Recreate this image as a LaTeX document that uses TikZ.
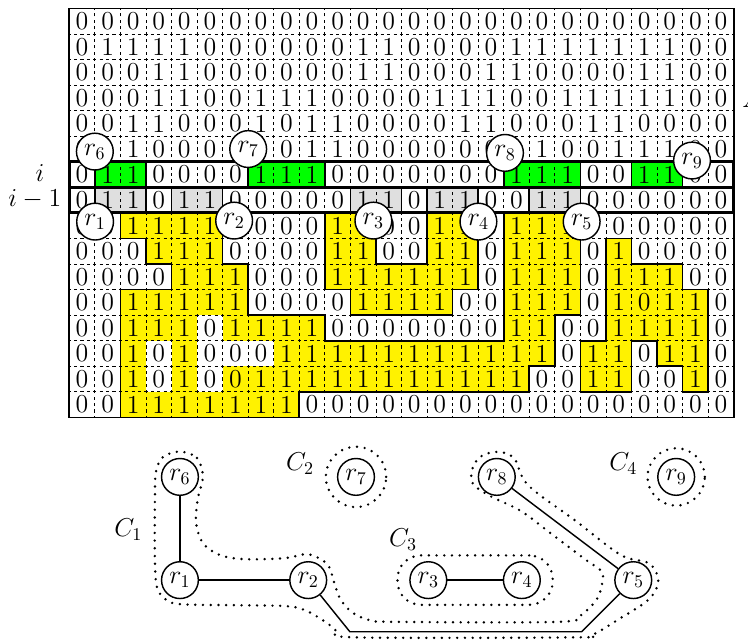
\documentclass[tikz,border=0pt]{standalone}
\usepackage{amsmath}
\usepackage{tikz}
\usetikzlibrary{fit}

\begin{document}
\begin{tikzpicture}[
  x=0.5cm, y=0.5cm,
  bit/.style={font=\Large, inner sep=0pt},
  lab/.style={circle, draw, fill=white, line width=0.8pt, minimum size=7.2mm,
              inner sep=0pt, font=\Large},
  cellline/.style={line width=0.4pt, dash pattern=on 1.7783pt off 1.7783pt,
                   dash phase=0.8892pt},
  run/.style={draw, line width=0.9pt},
  band/.style={line width=1.6pt},
  blob/.style={draw, fill=yellow, line width=0.9pt},
  hole/.style={fill=white},
  grp/.style={line width=1.5pt, dash pattern=on 0pt off 4.3pt, line cap=round},
  edge/.style={line width=0.8pt},
  tag/.style={font=\Large, inner sep=1pt},
]
\useasboundingbox (-2.712,0.333) rectangle (26.56,-24.68);

% runs of row i and row i-1
\foreach \a/\b in {1/3,7/10,17/20,22/24}
  \draw[run, fill=green] (\a,-6) rectangle (\b,-7);
\foreach \a/\b in {1/3,4/6,11/13,14/16,18/20}
  \draw[run, fill=gray!25] (\a,-7) rectangle (\b,-8);

% regions below
\draw[blob] (2,-8) -- (6,-8) -- (6,-10) -- (7,-10) -- (7,-12) -- (10,-12)
  -- (10,-13) -- (17,-13) -- (17,-8) -- (20,-8) -- (20,-12) -- (19,-12)
  -- (19,-14) -- (18,-14) -- (18,-15) -- (9,-15) -- (9,-16) -- (2,-16)
  -- (2,-11) -- (4,-11) -- (4,-10) -- (3,-10) -- (3,-9) -- (2,-9) -- cycle;
\draw[blob] (10,-8) -- (12,-8) -- (12,-10) -- (14,-10) -- (14,-8) -- (16,-8)
  -- (16,-11) -- (15,-11) -- (15,-12) -- (11,-12) -- (11,-11) -- (10,-11) -- cycle;
\draw[blob] (21,-9) -- (22,-9) -- (22,-10) -- (24,-10) -- (24,-11) -- (25,-11)
  -- (25,-15) -- (24,-15) -- (24,-14) -- (23,-14) -- (23,-13) -- (22,-13)
  -- (22,-15) -- (20,-15) -- (20,-13) -- (21,-13) -- cycle;
\fill[hole] (3,-13) rectangle (4,-15);
\fill[hole] (5,-12) rectangle (6,-15);
\fill[hole] (5,-13) rectangle (8,-14);

\foreach \k in {1,...,25} \draw[cellline] (\k,-16) -- (\k,0);
\foreach \k in {1,...,15} \draw[cellline] (0,-\k) -- (26,-\k);
\draw[line width=0.9pt] (0,0) rectangle (26,-16);
\draw[band] (0,-6) rectangle (26,-7);
\draw[band] (0,-7) rectangle (26,-8);

\foreach \bits [count=\r from 0] in {
 {0,0,0,0,0,0,0,0,0,0,0,0,0,0,0,0,0,0,0,0,0,0,0,0,0,0},
 {0,1,1,1,1,0,0,0,0,0,0,1,1,0,0,0,0,1,1,1,1,1,1,1,0,0},
 {0,0,0,1,1,0,0,0,0,0,0,1,1,0,0,0,1,1,0,0,0,0,1,1,0,0},
 {0,0,0,1,1,0,0,1,1,1,0,0,0,0,1,1,1,0,0,1,1,1,1,1,0,0},
 {0,0,1,1,0,0,0,1,0,1,1,0,0,0,0,1,1,0,0,0,1,1,0,0,0,0},
 {0,1,1,0,0,0,0,0,0,1,1,0,0,0,0,0,0,0,1,0,0,1,1,1,0,0},
 {0,1,1,0,0,0,0,1,1,1,0,0,0,0,0,0,0,1,1,1,0,0,1,1,0,0},
 {0,1,1,0,1,1,0,0,0,0,0,1,1,0,1,1,0,0,1,1,0,0,0,0,0,0},
 {0,0,1,1,1,1,0,0,0,0,1,1,0,0,1,1,0,1,1,1,0,0,0,0,0,0},
 {0,0,0,1,1,1,0,0,0,0,1,1,0,0,1,1,0,1,1,1,0,1,0,0,0,0},
 {0,0,0,0,1,1,1,0,0,0,1,1,1,1,1,1,0,1,1,1,0,1,1,1,0,0},
 {0,0,1,1,1,1,1,0,0,0,0,1,1,1,1,0,0,1,1,1,0,1,0,1,1,0},
 {0,0,1,1,1,0,1,1,1,1,0,0,0,0,0,0,0,1,1,0,0,1,1,1,1,0},
 {0,0,1,0,1,0,0,0,1,1,1,1,1,1,1,1,1,1,1,0,1,1,0,1,1,0},
 {0,0,1,0,1,0,0,1,1,1,1,1,1,1,1,1,1,1,0,0,1,1,0,0,1,0},
 {0,0,1,1,1,1,1,1,1,0,0,0,0,0,0,0,0,0,0,0,0,0,0,0,0,0}}
{
  \foreach \b [count=\c from 0] in \bits
    \node[bit] (b\r-\c) at (\c+0.5,-\r-0.5) {\b};
}

\node[tag] (rowi) at (-1.15,-6.45) {$i$};
\node[tag] (rowim) at (-1.35,-7.45) {$i-1$};
\node[tag, anchor=base west, inner sep=0pt] (arr) at (26.33,-3.86) {$A$};

\node[lab] (t1) at (1.01,-8.34) {$r_1$};
\node[lab] (t2) at (6.45,-8.3) {$r_2$};
\node[lab] (t3) at (11.9,-8.3) {$r_3$};
\node[lab] (t4) at (16.01,-8.34) {$r_4$};
\node[lab] (t5) at (20.05,-8.34) {$r_5$};
\node[lab] (t6) at (1.0,-5.6) {$r_6$};
\node[lab] (t7) at (7.0,-5.5) {$r_7$};
\node[lab] (t8) at (17.05,-5.65) {$r_8$};
\node[lab] (t9) at (24.37,-5.95) {$r_9$};

% graph of the runs
\node[lab] (g6) at (4.33,-18.33) {$r_6$};
\node[lab] (g1) at (4.33,-22.37) {$r_1$};
\node[lab] (g2) at (9.35,-22.37) {$r_2$};
\node[lab] (g7) at (11.22,-18.33) {$r_7$};
\node[lab] (g3) at (14.05,-22.37) {$r_3$};
\node[lab] (g4) at (17.71,-22.37) {$r_4$};
\node[lab] (g5) at (22.07,-22.37) {$r_5$};
\node[lab] (g8) at (16.73,-18.33) {$r_8$};
\node[lab] (g9) at (23.75,-18.33) {$r_9$};
\coordinate (kA) at (10.98,-24.39);
\coordinate (kB) at (20.05,-24.39);

\draw[edge] (g6) -- (g1);
\draw[edge] (g1) -- (g2);
\draw[edge] (g3) -- (g4);
\draw[edge] (g8) -- (g5);
\draw[edge] (g2) -- (kA) -- (kB) -- (g5);

\node[tag] (c1) at (2.31,-20.41) {$C_1$};
\node[tag] (c2) at (9.03,-17.8) {$C_2$};
\node[tag] (c3) at (13.06,-20.8) {$C_3$};
\node[tag] (c4) at (21.68,-17.8) {$C_4$};

\draw[grp] (g7) circle[radius=1.18];
\draw[grp] (g9) circle[radius=1.12];
\node[grp, draw, fit=(g3)(g4), inner xsep=0.23cm, inner ysep=0.11cm,
      rounded corners=0.46cm] (c3box) {};
\draw[grp] plot[smooth cycle, tension=0.55] coordinates {
  (4.33,-17.34) (5.00,-17.59) (5.23,-18.33) (5.04,-19.12) (4.96,-20.10)
  (5.23,-20.92) (5.90,-21.39) (6.88,-21.55) (8.44,-21.51) (9.35,-21.36)
  (10.10,-21.75) (10.36,-22.45) (10.60,-23.10) (11.05,-23.62) (11.70,-23.92)
  (12.60,-24.00) (19.20,-24.00) (20.06,-23.70) (20.62,-23.15) (20.82,-22.64)
  (20.85,-22.06) (20.22,-21.58) (18.93,-20.61) (17.68,-19.67) (16.47,-19.08)
  (15.80,-18.61) (15.76,-18.06) (16.07,-17.55) (16.73,-17.35) (17.40,-17.59)
  (17.95,-18.65) (19.83,-20.06) (21.59,-21.39) (22.70,-21.72) (23.05,-22.40)
  (22.68,-23.12) (21.50,-23.90) (20.45,-24.52) (19.80,-24.61) (11.20,-24.61)
  (10.50,-24.38) (10.09,-24.05) (9.30,-23.58) (8.52,-23.39) (6.41,-23.35)
  (4.33,-23.31) (3.75,-23.11) (3.43,-22.64) (3.35,-21.58) (3.35,-19.24)
  (3.39,-18.14) (3.67,-17.55)};
\end{tikzpicture}
\end{document}
